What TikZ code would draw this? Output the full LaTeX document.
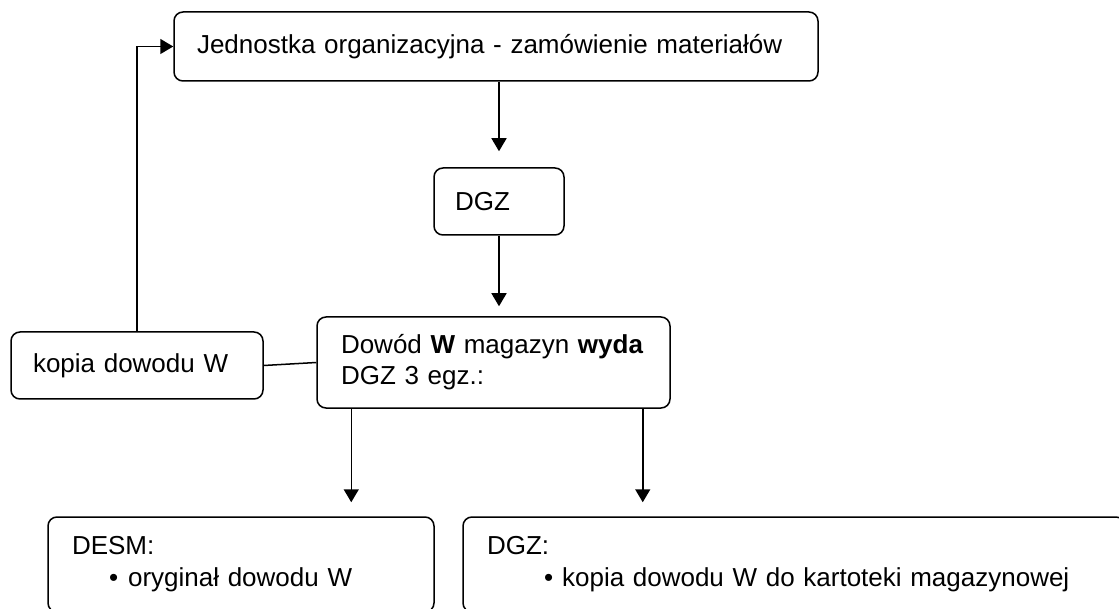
\documentclass[tikz,border=0pt]{standalone}
\usepackage{fontspec}
\setmainfont{Liberation Sans}
\usetikzlibrary{arrows.meta, calc}

\begin{document}
\begin{tikzpicture}[x=1pt, y=-1pt, line width=1.5pt, >={Triangle[length=13pt, width=15pt]},
  box/.style={draw, rounded corners=9pt, align=left, inner ysep=0pt,
    font=\fontsize{26}{31}\selectfont}]
  \useasboundingbox (0,0) rectangle (1119,609);
  \node (org) at (496,46.5) [box, minimum width=644, minimum height=69, inner xsep=23, text width=598] {Jednostka organizacyjna - zamówienie materiałów};
  \node (dgz) at (499,201.5) [box, minimum width=130, minimum height=67, inner xsep=21, text width=88] {DGZ};
  \node (dow) at (493.5,362.5) [box, minimum width=353, minimum height=91, inner xsep=24, text width=305] {Dowód \textbf{W} magazyn \textbf{wyda}\\DGZ 3 egz.:};
  \node (kop) at (137,365.5) [box, minimum width=252, minimum height=67, inner xsep=22, text width=208] {kopia dowodu W};
  \node (desm) at (241,564.5) [box, minimum width=386, minimum height=95, inner xsep=24, text width=338, font=\fontsize{26}{32}\selectfont] {DESM:\\\hspace*{37pt}\textbullet\hspace{10pt}oryginał dowodu W};
  \node (kart) at (794,564.5) [box, minimum width=662, minimum height=95, inner xsep=24, text width=614, font=\fontsize{26}{32}\selectfont] {DGZ:\\\hspace*{57pt}\textbullet\hspace{9pt}kopia dowodu W do kartoteki magazynowej};
  % connectors
  \coordinate (dl) at ($(dow.south west)+(35,0)$);
  \coordinate (dr) at ($(dow.south east)+(-28,0)$);
  \draw [->, shorten >=16pt] (org.south -| dgz.north) -- (dgz.north);
  \draw [->, shorten >=10pt] (dgz.south) -- (dgz.south |- dow.north);
  \draw [->] (kop.north) |- (org.west);
  \draw (kop.east) -- (dow.west);
  \draw [->, shorten >=14pt] (dl) -- (dl |- desm.north);
  \draw [->, shorten >=14pt] (dr) -- (dr |- kart.north);
\end{tikzpicture}
\end{document}
